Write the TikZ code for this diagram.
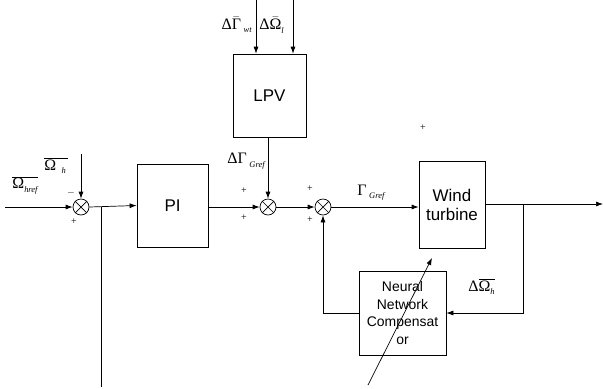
\documentclass[tikz,border=0pt]{standalone}
\usepackage{fontspec}
\setmainfont{Liberation Serif}
\newfontfamily\arial{Liberation Sans}
\usetikzlibrary{arrows.meta}
\newcommand\sbs[1]{\raisebox{-0.45ex}{\fontsize{8.5}{9}\selectfont\itshape #1}}
\begin{document}
\begin{tikzpicture}[x=1bp,y=-1bp,
  line width=0.7bp,
  arr/.style={-{Latex[length=7bp,width=5bp]}},
  block/.style={draw, inner sep=0pt, align=center, font=\arial\fontsize{17}{19}\selectfont},
  smallblock/.style={block, font=\arial\fontsize{14}{17.5}\selectfont},
  sumnode/.style={draw, circle, minimum size=16bp, inner sep=0pt},
  lbl/.style={font=\fontsize{16}{18}\selectfont, inner sep=0pt},
  sgn/.style={font=\fontsize{10}{12}\selectfont, inner sep=0pt}]
\useasboundingbox (0,0) rectangle (603,388);
% blocks
\node[block, minimum width=71bp, minimum height=83bp] (PI) at (172.5,205.5) {PI};
\node[block, minimum width=73bp, minimum height=83bp] (LPV) at (269.5,95.5) {LPV};
\node[block, minimum width=66bp, minimum height=87bp] (WT) at (452,204.5) {Wind\\turbine};
\node[smallblock, minimum width=87bp, minimum height=84bp] (NN) at (402.5,313) {Neural\\Network\\Compensat\\or};
% sums
\foreach \n/\x in {s1/81, s2/268, s3/323}{
  \node[sumnode] (\n) at (\x,207) {};
  \draw (\n.north west) -- (\n.south east) (\n.north east) -- (\n.south west);
}
% coordinates
\coordinate (in1) at (5,207);
\coordinate (top1) at (81,154);
\coordinate (br1) at (101,207);
\coordinate (bot1) at (101,387);
\coordinate (inA) at (256,0);
\coordinate (inB) at (293,0);
\coordinate (out) at (603,204);
\coordinate (br2) at (523,204);
\coordinate (fb) at (523,313);
\coordinate (d1) at (368,385);
\coordinate (d2) at (432,258);
% connectors
\draw[arr] (in1) -- (s1.west);
\draw[arr] (top1) -- (s1.north);
\draw[arr] (s1.east) -- (PI.west);
\draw (br1) -- (bot1);
\draw[arr] (PI.east |- s2) -- (s2.west);
\draw[arr] (LPV.south -| s2) -- (s2.north);
\draw[arr] (s2.east) -- (s3.west);
\draw[arr] (s3.east) -- (s3.east -| WT.west);
\draw[arr] (inA) -- (inA |- LPV.north);
\draw[arr] (inB) -- (inB |- LPV.north);
\draw[arr] (WT.east |- out) -- (out);
\draw[arr] (br2) -- (fb) -- (NN.east |- fb);
\draw[arr] (NN.west) -- (NN.west -| s3) -- (s3.south);
\draw[arr] (d1) -- (d2);
% labels
\node[lbl] (lhref) at (25,185) {$\overline{\hbox{Ω\sbs{href}}}$};
\node[lbl, anchor=west] (lh) at (44,166) {$\overline{\hbox{Ω\,\,\sbs{h}\,}}$};
\node[lbl, anchor=east] (lwt) at (252,25) {Δ$\bar{\hbox{Γ}}$\,\sbs{wt}};
\node[lbl, anchor=west] (ll) at (259,25) {Δ$\bar{\hbox{Ω}}$\sbs{l}};
\node[lbl, anchor=west] (lgref1) at (227,161) {ΔΓ\,\sbs{Gref}};
\node[lbl, anchor=west] (lgref2) at (357,193) {Γ\,\sbs{Gref}};
\node[lbl, anchor=west] (lwh) at (468,287) {Δ$\overline{\hbox{Ω\sbs{h}}}$};
\node[sgn] (m1) at (71,193) {$-$};
\node[sgn] (p1) at (74,222) {+};
\node[sgn] (p2) at (244,191) {+};
\node[sgn] (p3) at (244,218) {+};
\node[sgn] (p4) at (310,189) {+};
\node[sgn] (p5) at (310,220) {+};
\node[sgn] (p6) at (423,128) {+};
\end{tikzpicture}
\end{document}
